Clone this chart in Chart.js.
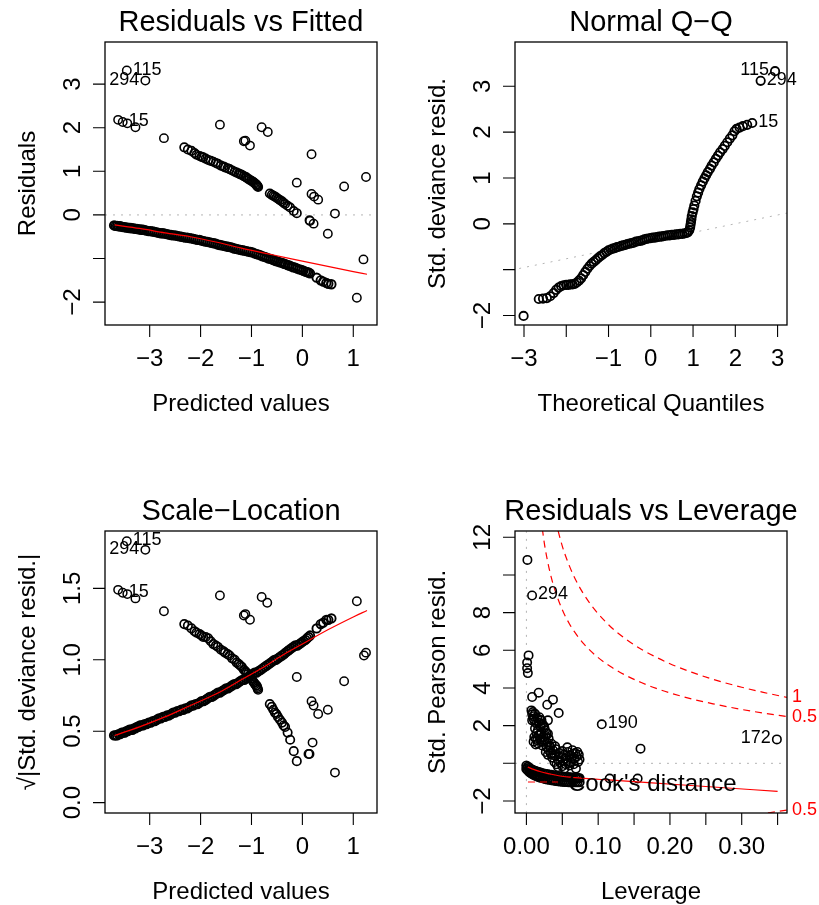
<!DOCTYPE html>
<html>
<head>
<meta charset="utf-8">
<title>glm diagnostics</title>
<script src="https://cdn.jsdelivr.net/npm/chart.js"></script>
<style>
  html, body { margin: 0; padding: 0; background: #fff; }
  #wrap { position: relative; width: 819px; height: 905px; overflow: hidden; }
  canvas { position: absolute; }
</style>
</head>
<body>
<div id="wrap">
  <canvas id="fitted" width="410" height="453" style="left:0;top:0"></canvas>
  <canvas id="qq" width="409" height="453" style="left:410px;top:0"></canvas>
  <canvas id="scaleloc" width="410" height="452" style="left:0;top:453px"></canvas>
  <canvas id="leverage" width="409" height="452" style="left:410px;top:453px"></canvas>
</div>
<script>
// ---------- Residuals vs Fitted / Scale-Location ----------
// lower band (y = 0 cases): fitted value, residual, sqrt|std resid|
const fittedLow = [-3.70,-3.67,-3.64,-3.61,-3.58,-3.55,-3.52,-3.49,-3.46,-3.43,-3.40,-3.37,-3.34,-3.31,-3.28,-3.25,-3.22,-3.19,-3.16,-3.13,-3.10,
  -3.06,-3.02,-2.98,-2.94,-2.90,-2.86,-2.82,-2.78,-2.74,-2.70,-2.66,-2.62,-2.58,-2.54,-2.50,-2.46,-2.42,-2.38,-2.34,-2.30,-2.26,-2.22,-2.18,-2.14,-2.10,-2.06,-2.02,
  -1.98,-1.94,-1.90,-1.86,-1.82,-1.78,-1.74,-1.70,-1.66,-1.62,-1.58,-1.54,-1.50,-1.46,-1.42,-1.38,-1.34,-1.30,-1.26,-1.22,-1.18,-1.14,-1.10,-1.06,-1.02,
  -0.98,-0.94,-0.90,-0.86,-0.82,-0.78,-0.74,-0.70,-0.66,-0.62,-0.58,-0.55,-0.52,-0.48,-0.44,-0.40,-0.36,-0.33,-0.29,-0.26,-0.22,-0.18,-0.14,-0.10,-0.06,-0.02,0.02,0.06,0.09,0.12,0.15,0.28,0.36,0.41,0.47,0.51,0.57];
const residLow = [-0.24,-0.25,-0.25,-0.26,-0.26,-0.27,-0.28,-0.28,-0.29,-0.29,-0.30,-0.30,-0.31,-0.31,-0.32,-0.32,-0.33,-0.33,-0.34,-0.34,-0.35,
  -0.36,-0.37,-0.37,-0.38,-0.39,-0.40,-0.41,-0.42,-0.42,-0.43,-0.44,-0.45,-0.46,-0.47,-0.47,-0.48,-0.49,-0.50,-0.51,-0.52,-0.52,-0.53,-0.54,-0.55,-0.56,-0.57,-0.57,
  -0.59,-0.60,-0.61,-0.62,-0.63,-0.64,-0.65,-0.66,-0.68,-0.69,-0.70,-0.71,-0.72,-0.73,-0.74,-0.75,-0.77,-0.78,-0.79,-0.80,-0.81,-0.82,-0.83,-0.84,-0.85,
  -0.86,-0.88,-0.90,-0.91,-0.93,-0.95,-0.96,-0.98,-1.00,-1.01,-1.03,-1.04,-1.06,-1.07,-1.09,-1.10,-1.12,-1.13,-1.15,-1.16,-1.18,-1.20,-1.21,-1.23,-1.25,-1.26,-1.28,-1.30,-1.31,-1.32,-1.34,-1.44,-1.50,-1.53,-1.56,-1.58,-1.59];
const sqrtLow = [0.47,0.47,0.47,0.48,0.48,0.49,0.49,0.49,0.50,0.50,0.51,0.51,0.51,0.52,0.52,0.53,0.53,0.54,0.54,0.54,0.55,
  0.55,0.56,0.56,0.57,0.57,0.58,0.59,0.59,0.60,0.60,0.61,0.61,0.62,0.63,0.63,0.64,0.64,0.65,0.65,0.66,0.66,0.67,0.68,0.68,0.69,0.69,0.70,
  0.71,0.71,0.72,0.73,0.74,0.74,0.75,0.76,0.77,0.77,0.78,0.79,0.80,0.80,0.81,0.82,0.83,0.83,0.84,0.85,0.86,0.86,0.87,0.88,0.89,
  0.90,0.91,0.91,0.92,0.93,0.94,0.95,0.96,0.97,0.98,0.99,1.00,1.00,1.01,1.02,1.03,1.04,1.05,1.06,1.07,1.08,1.09,1.10,1.10,1.11,1.12,1.13,1.14,1.15,1.16,1.17,1.22,1.25,1.26,1.28,1.28,1.29];

// upper band (y = 1 cases)
const fittedHigh = [-2.32,-2.25,-2.18,-2.12,-2.08,-2.02,-1.98,-1.95,-1.90,-1.85,-1.80,-1.75,-1.70,-1.66,-1.60,-1.55,-1.52,-1.47,-1.43,-1.38,
  -1.33,-1.29,-1.25,-1.22,-1.19,-1.15,-1.12,-1.10,-1.07,-1.04,-1.00,-0.97,-0.95,-0.93,-0.91,-0.90,-0.89,-0.88,-0.87,-0.64,
  -0.60,-0.57,-0.54,-0.51,-0.48,-0.44,-0.40,-0.37,-0.34,-0.29,-0.24,-0.17,-0.11];
const residHigh = [1.55,1.50,1.47,1.42,1.38,1.35,1.33,1.32,1.29,1.26,1.24,1.22,1.19,1.17,1.13,1.11,1.09,1.07,1.05,1.02,
  0.99,0.97,0.95,0.93,0.92,0.89,0.87,0.86,0.83,0.81,0.78,0.76,0.74,0.72,0.70,0.69,0.67,0.66,0.64,0.49,
  0.46,0.44,0.42,0.40,0.37,0.34,0.31,0.28,0.25,0.21,0.17,0.09,0.04];
const sqrtHigh = [1.25,1.24,1.22,1.20,1.19,1.18,1.17,1.16,1.16,1.15,1.13,1.11,1.10,1.09,1.07,1.06,1.05,1.04,1.03,1.01,
  1.00,0.98,0.97,0.96,0.95,0.93,0.92,0.91,0.90,0.89,0.87,0.85,0.84,0.83,0.82,0.82,0.81,0.80,0.79,0.69,
  0.67,0.65,0.63,0.62,0.60,0.58,0.56,0.54,0.53,0.49,0.44,0.36,0.29];

// scattered cases
const fittedOut = [-3.45,-3.085,-3.62,-3.53,-3.44,-3.28,-2.72,-1.62,-0.80,-0.68,-1.15,-1.12,-1.03,0.18,-0.11,0.82,1.25,0.18,0.23,0.31,0.64,0.14,0.15,0.22,0.50,1.20,1.07];
const residOut = [3.31,3.08,2.18,2.13,2.10,2.01,1.76,2.07,2.01,1.90,1.69,1.70,1.59,1.39,0.74,0.65,0.87,0.48,0.42,0.35,0.03,-0.12,-0.14,-0.20,-0.43,-1.02,-1.90];
const fittedOutSL = [-3.45,-3.085,-3.62,-3.53,-3.44,-3.28,-2.72,-1.62,-0.80,-0.69,-1.15,-1.12,-1.03,1.07,1.25,1.21,-0.11,0.82,0.18,0.22,0.31,0.50,0.20,0.12,0.14,0.64];
const sqrtOut = [1.83,1.77,1.49,1.47,1.46,1.43,1.34,1.45,1.44,1.40,1.31,1.32,1.28,1.41,1.05,1.03,0.88,0.85,0.71,0.68,0.62,0.65,0.42,0.34,0.34,0.21];

// red smoothers
const smoothFitX = [-3.69,-3.2,-2.7,-2.2,-1.7,-1.2,-0.77,-0.4,0,0.5,1.0,1.27];
const smoothFitY = [-0.23,-0.31,-0.41,-0.50,-0.62,-0.76,-0.87,-0.96,-1.06,-1.18,-1.30,-1.36];
const smoothSLX = [-3.69,-3.2,-2.7,-2.2,-1.7,-1.2,-0.8,-0.4,0,0.5,1.0,1.27];
const smoothSLY = [0.47,0.53,0.60,0.68,0.76,0.86,0.94,1.03,1.11,1.21,1.30,1.345];

// ---------- Normal Q-Q ----------
const qqTheo = [-3.01,-2.65,-2.55,-2.46,-2.38,-2.30,-2.24,-2.18,-2.12,-2.06,-2.00,-1.95,-1.90,-1.85,-1.80,-1.75,-1.70,-1.65,-1.60,-1.55,
  -1.50,-1.45,-1.40,-1.35,-1.30,-1.25,-1.20,-1.15,-1.10,-1.05,-1.00,-0.95,-0.90,-0.85,-0.80,-0.75,-0.70,-0.65,-0.60,-0.55,
  -0.50,-0.45,-0.40,-0.35,-0.30,-0.25,-0.20,-0.15,-0.10,-0.05,0.00,0.05,0.10,0.15,0.20,0.25,0.30,0.35,0.40,0.45,
  0.50,0.55,0.60,0.65,0.70,0.75,0.80,0.85,0.88,0.91,0.93,0.94,0.95,0.96,0.97,0.99,1.01,1.03,1.06,1.09,
  1.12,1.15,1.19,1.23,1.27,1.31,1.35,1.40,1.44,1.49,1.54,1.59,1.64,1.70,1.75,1.81,1.87,1.93,1.98,2.03,
  2.10,2.18,2.28,2.40,2.60,2.94];
const qqResid = [-2.01,-1.64,-1.63,-1.62,-1.58,-1.51,-1.44,-1.39,-1.36,-1.34,-1.33,-1.33,-1.32,-1.32,-1.31,-1.28,-1.24,-1.19,-1.12,-1.05,
  -0.98,-0.92,-0.87,-0.83,-0.79,-0.75,-0.71,-0.68,-0.64,-0.61,-0.58,-0.56,-0.54,-0.53,-0.51,-0.50,-0.48,-0.47,-0.46,-0.44,
  -0.43,-0.42,-0.41,-0.39,-0.38,-0.37,-0.36,-0.34,-0.33,-0.32,-0.31,-0.30,-0.30,-0.29,-0.28,-0.28,-0.27,-0.26,-0.25,-0.25,
  -0.24,-0.24,-0.23,-0.23,-0.22,-0.22,-0.21,-0.20,-0.18,-0.14,-0.08,-0.02,0.04,0.10,0.17,0.25,0.32,0.40,0.50,0.60,
  0.68,0.76,0.84,0.92,0.99,1.06,1.13,1.20,1.27,1.34,1.42,1.49,1.56,1.63,1.70,1.78,1.86,1.93,2.02,2.07,
  2.10,2.13,2.16,2.20,3.12,3.33];
const qqLineTheo = [-3.3, 3.3];
const qqLineResid = [-1.01, 0.25];

// ---------- Residuals vs Leverage ----------
const leverageOut = [0.0014,0.0079,0.003,0.001,0.002,0.001,0.008,0.017,0.029,0.037,0.045,0.105,0.159,0.349,0.116,0.155,
  0.007,0.009,0.012,0.010,0.008,0.014,0.021,0.020,0.026,0.016,0.011,0.015,0.023,0.030,0.028,0.035,0.034,0.039,0.049,0.056,
  0.065,0.067,0.060,0.053,0.069,0.044,0.031,0.030,0.031,0.037,0.044,0.063,0.072,0.039,0.018,0.024,0.027,0.019,0.013,0.022,
  0.033,0.041,0.046,0.052,0.058,0.047,0.055,0.062,0.070,0.074,0.036,0.042,
  0.008,0.010,0.012,0.015,0.017,0.019,0.022,0.025,0.012,0.014,0.017,0.021,0.024,0.028,0.010,0.013,0.016,0.019,0.025,0.029,
  0.032,0.027,0.030,0.036,0.040,0.045,0.050,0.054,0.057,0.060,0.064,0.068,0.071,0.066,0.058,0.050,0.073];
const pearsonOut = [10.8,8.91,5.73,5.35,4.79,5.05,3.52,3.75,3.11,3.38,2.67,2.07,0.78,1.27,-0.81,-0.81,
  2.81,2.72,2.63,2.50,2.28,2.10,2.28,1.93,1.75,1.75,1.40,1.22,1.13,1.57,0.86,1.04,0.51,0.42,0.33,0.16,
  0.51,0.25,-0.11,-0.28,-0.28,-0.20,0.69,2.28,1.31,0.69,0.16,0.25,0.07,0.07,2.45,2.00,1.45,1.55,1.00,0.95,
  0.85,0.75,0.55,0.45,0.60,0.05,-0.05,0.05,0.35,0.20,0.30,-0.05,
  2.60,2.35,2.20,2.40,2.15,2.30,2.10,1.90,1.85,1.60,1.50,1.65,1.40,1.60,1.15,1.30,1.05,1.25,1.20,1.10,
  0.95,0.60,0.45,0.55,0.90,0.35,0.65,0.25,0.85,0.40,0.70,0.55,0.60,-0.05,0.00,-0.15,0.45];
const leverageBand = [0.000,0.002,0.004,0.006,0.008,0.010,0.012,0.014,0.016,0.018,0.020,0.023,0.026,0.029,0.032,0.035,0.038,0.041,0.044,0.047,
  0.050,0.053,0.056,0.059,0.062,0.065,0.068,0.071,0.074];
const pearsonBandA = [-0.12,-0.18,-0.24,-0.29,-0.33,-0.37,-0.40,-0.43,-0.46,-0.48,-0.50,-0.53,-0.56,-0.58,-0.60,-0.62,-0.64,-0.66,-0.68,-0.69,
  -0.70,-0.72,-0.73,-0.74,-0.75,-0.76,-0.77,-0.78,-0.79];
const pearsonBandB = [-0.30,-0.38,-0.45,-0.51,-0.56,-0.60,-0.64,-0.67,-0.70,-0.73,-0.76,-0.79,-0.82,-0.85,-0.87,-0.89,-0.91,-0.93,-0.95,-0.96,
  -0.97,-0.98,-0.99,-1.00,-1.00,-1.00,-1.00,-1.00,-1.00];
const smoothLevX = [0.002,0.01,0.02,0.031,0.045,0.068,0.11,0.17,0.25,0.35];
const smoothLevY = [-0.20,-0.32,-0.45,-0.55,-0.66,-0.76,-0.87,-1.03,-1.23,-1.49];

// Cook's distance contours
const cookOneX = [0.04,0.05,0.06,0.07,0.08,0.09,0.10,0.12,0.14,0.16,0.18,0.20,0.23,0.26,0.30,0.33,0.363];
const cookOneY = [12.96,11.53,10.47,9.64,8.97,8.41,7.94,7.16,6.56,6.06,5.65,5.29,4.84,4.46,4.04,3.77,3.50];
const cookHalfX = [0.02,0.025,0.03,0.035,0.04,0.05,0.06,0.07,0.08,0.10,0.12,0.14,0.16,0.18,0.20,0.23,0.26,0.30,0.33,0.363];
const cookHalfY = [13.10,11.68,10.64,9.82,9.17,8.15,7.40,6.82,6.34,5.61,5.07,4.64,4.29,3.99,3.74,3.42,3.16,2.86,2.67,2.48];
const cookHalfLowX = [0.32,0.34,0.363];
const cookHalfLowY = [-2.73,-2.61,-2.48];

// ---------- axes ----------
const fitRange = [-3.878, 1.466];
const residRange = [-2.524, 3.965];
const theoRange = [-3.213, 3.223];
const stdResidRange = [-2.207, 3.967];
const sqrtRange = [-0.073, 1.902];
const levRange = [-0.0159, 0.3631];
const pearsonRange = [-2.638, 12.335];

const fitTicks = [-3, -2, -1, 0, 1];
const fitTickLabels = ['\u22123', '\u22122', '\u22121', '0', '1'];
const residTicks = [-2, -1, 0, 1, 2, 3];
const residTickLabels = ['\u22122', '', '0', '1', '2', '3'];
const theoTicks = [-3, -2, -1, 0, 1, 2, 3];
const theoTickLabels = ['\u22123', '', '\u22121', '0', '1', '2', '3'];
const sqrtTicks = [0, 0.5, 1, 1.5];
const sqrtTickLabels = ['0.0', '0.5', '1.0', '1.5'];
const levTicks = [0, 0.05, 0.1, 0.15, 0.2, 0.25, 0.3, 0.35];
const levTickLabels = ['0.00', '', '0.10', '', '0.20', '', '0.30', ''];
const pearsonTicks = [-2, 0, 2, 4, 6, 8, 10, 12];
const pearsonTickLabels = ['\u22122', '', '2', '4', '6', '8', '', '12'];

// labelled observations
const fitIds = ['115', '294', '15'];
const fitIdX = [-3.45, -3.085, -3.53];
const fitIdY = [3.31, 3.08, 2.13];
const fitIdSide = ['right', 'left', 'right'];
const slIdY = [1.83, 1.77, 1.47];
const qqIds = ['115', '294', '15'];
const qqIdX = [2.94, 2.60, 2.40];
const qqIdY = [3.33, 3.12, 2.20];
const qqIdSide = ['left', 'right', 'right'];
const levIds = ['294', '190', '172'];
const levIdX = [0.0079, 0.105, 0.349];
const levIdY = [8.91, 2.07, 1.27];
const levIdSide = ['right', 'right', 'left'];

const FONT = '"Liberation Sans", Arial, Helvetica, sans-serif';

function pts(xs, ys) {
  return xs.map((x, i) => ({ x: x, y: ys[i] }));
}

function rings(data, width) {
  return {
    data: data, showLine: false, order: 2,
    pointRadius: 4.2, pointHoverRadius: 4.2, pointBorderWidth: width || 1.5,
    pointBorderColor: '#000', pointBackgroundColor: 'rgba(0,0,0,0)'
  };
}

function curve(data, color, width, dash, order) {
  return {
    data: data, showLine: true, order: order, clip: 0,
    pointRadius: 0, pointHoverRadius: 0,
    borderColor: color, borderWidth: width, borderDash: dash || [],
    cubicInterpolationMode: 'monotone', fill: false
  };
}

function vText(ctx, text, x, y) {
  ctx.save();
  ctx.translate(x, y);
  ctx.rotate(-Math.PI / 2);
  ctx.textAlign = 'center';
  ctx.textBaseline = 'alphabetic';
  ctx.fillText(text, 0, 0);
  ctx.restore();
}

// R style frame: box, outside ticks, rotated y labels, titles, point ids
function rFrame(cfg) {
  return {
    id: 'rFrame',
    afterDraw(chart) {
      const ctx = chart.ctx, a = chart.chartArea;
      const xs = chart.scales.x, ys = chart.scales.y;
      ctx.save();
      ctx.strokeStyle = '#000';
      ctx.lineWidth = 1.3;
      ctx.setLineDash([]);
      ctx.strokeRect(a.left, a.top, a.right - a.left, a.bottom - a.top);

      ctx.lineWidth = 1.1;
      ctx.beginPath();
      cfg.xTicks.forEach(v => {
        const px = xs.getPixelForValue(v);
        ctx.moveTo(px, a.bottom); ctx.lineTo(px, a.bottom + 12);
      });
      cfg.yTicks.forEach(v => {
        const py = ys.getPixelForValue(v);
        ctx.moveTo(a.left, py); ctx.lineTo(a.left - 12, py);
      });
      ctx.stroke();

      ctx.fillStyle = '#000';
      ctx.font = '24px ' + FONT;
      ctx.textAlign = 'center';
      ctx.textBaseline = 'alphabetic';
      cfg.xTicks.forEach((v, i) => {
        if (cfg.xLabels[i]) ctx.fillText(cfg.xLabels[i], xs.getPixelForValue(v), a.bottom + 41);
      });
      cfg.yTicks.forEach((v, i) => {
        if (cfg.yLabels[i]) vText(ctx, cfg.yLabels[i], a.left - 25, ys.getPixelForValue(v));
      });
      ctx.fillText(cfg.xTitle, (a.left + a.right) / 2, a.bottom + 86);
      vText(ctx, cfg.yTitle, a.left - 70, (a.top + a.bottom) / 2);

      ctx.font = '29px ' + FONT;
      ctx.fillText(cfg.title, (a.left + a.right) / 2, a.top - 11);

      ctx.font = '18px ' + FONT;
      ctx.textBaseline = 'middle';
      cfg.ids.forEach((id, i) => {
        const px = xs.getPixelForValue(cfg.idX[i]);
        const py = ys.getPixelForValue(cfg.idY[i]) - 1;
        if (cfg.idSide[i] === 'left') {
          ctx.textAlign = 'right'; ctx.fillText(id, px - 6, py);
        } else {
          ctx.textAlign = 'left'; ctx.fillText(id, px + 6, py);
        }
      });
      if (cfg.extra) cfg.extra(chart, ctx, a, xs, ys);
      ctx.restore();
    }
  };
}

function makePanel(id, pad, xr, yr, datasets, frame) {
  return new Chart(document.getElementById(id), {
    type: 'scatter',
    data: { datasets: datasets },
    options: {
      responsive: false,
      animation: false,
      events: [],
      layout: { padding: pad, autoPadding: false },
      plugins: { legend: { display: false }, tooltip: { enabled: false }, title: { display: false } },
      scales: {
        x: { type: 'linear', min: xr[0], max: xr[1], display: false },
        y: { type: 'linear', min: yr[0], max: yr[1], display: false }
      }
    },
    plugins: [rFrame(frame)]
  });
}

const GRAY_DOT = '#b4b4b4';
const DOTS = [2, 6];
const DENSE = 1.9;   // stroke for the heavily overplotted bands

// 1. Residuals vs Fitted
makePanel('fitted', { left: 105, top: 42, right: 33, bottom: 128 }, fitRange, residRange, [
  curve(pts(smoothFitX, smoothFitY), '#ff0000', 1.2, [], 0),
  rings(pts(fittedLow, residLow), DENSE),
  rings(pts(fittedHigh, residHigh), 1.7),
  rings(pts(fittedOut, residOut)),
  curve(pts(fitRange, [0, 0]), GRAY_DOT, 1, DOTS, 3)
], {
  title: 'Residuals vs Fitted', xTitle: 'Predicted values', yTitle: 'Residuals',
  xTicks: fitTicks, xLabels: fitTickLabels, yTicks: residTicks, yLabels: residTickLabels,
  ids: fitIds, idX: fitIdX, idY: fitIdY, idSide: fitIdSide
});

// 2. Normal Q-Q
makePanel('qq', { left: 105, top: 42, right: 32, bottom: 128 }, theoRange, stdResidRange, [
  rings(pts(qqTheo, qqResid), 1.8),
  curve(pts(qqLineTheo, qqLineResid), GRAY_DOT, 1, DOTS, 3)
], {
  title: 'Normal Q\u2212Q', xTitle: 'Theoretical Quantiles', yTitle: 'Std. deviance resid.',
  xTicks: theoTicks, xLabels: theoTickLabels, yTicks: residTicks, yLabels: residTickLabels,
  ids: qqIds, idX: qqIdX, idY: qqIdY, idSide: qqIdSide
});

// 3. Scale-Location
makePanel('scaleloc', { left: 105, top: 78, right: 33, bottom: 92 }, fitRange, sqrtRange, [
  curve(pts(smoothSLX, smoothSLY), '#ff0000', 1.2, [], 0),
  rings(pts(fittedLow, sqrtLow), DENSE),
  rings(pts(fittedHigh, sqrtHigh), 1.7),
  rings(pts(fittedOutSL, sqrtOut))
], {
  title: 'Scale\u2212Location', xTitle: 'Predicted values', yTitle: '\u221A|Std. deviance resid.|',
  xTicks: fitTicks, xLabels: fitTickLabels, yTicks: sqrtTicks, yLabels: sqrtTickLabels,
  ids: fitIds, idX: fitIdX, idY: slIdY, idSide: fitIdSide
});

// 4. Residuals vs Leverage
const cookCurves = [
  { xs: cookOneX, ys: cookOneY, label: '1' },
  { xs: cookHalfX, ys: cookHalfY, label: '0.5' },
  { xs: cookHalfLowX, ys: cookHalfLowY, label: '0.5' }
];
makePanel('leverage', { left: 105, top: 78, right: 32, bottom: 92 }, levRange, pearsonRange, [
  curve(pts(smoothLevX, smoothLevY), '#ff0000', 1.2, [], 0),
  rings(pts(leverageOut, pearsonOut), 1.6),
  rings(pts(leverageBand, pearsonBandA), DENSE),
  rings(pts(leverageBand, pearsonBandB), DENSE),
  curve(pts(cookOneX, cookOneY), '#ff0000', 1.2, [7, 5], 1),
  curve(pts(cookHalfX, cookHalfY), '#ff0000', 1.2, [7, 5], 1),
  curve(pts(cookHalfLowX, cookHalfLowY), '#ff0000', 1.2, [7, 5], 1),
  curve(pts(levRange, [0, 0]), GRAY_DOT, 1, DOTS, 3),
  curve(pts([0, 0], pearsonRange), GRAY_DOT, 1, DOTS, 3)
], {
  title: 'Residuals vs Leverage', xTitle: 'Leverage', yTitle: 'Std. Pearson resid.',
  xTicks: levTicks, xLabels: levTickLabels, yTicks: pearsonTicks, yLabels: pearsonTickLabels,
  ids: levIds, idX: levIdX, idY: levIdY, idSide: levIdSide,
  extra: function (chart, ctx, a, xs, ys) {
    // contour labels in the right margin
    ctx.fillStyle = '#ff0000';
    ctx.font = '18px ' + FONT;
    ctx.textAlign = 'left';
    ctx.textBaseline = 'middle';
    cookCurves.forEach(c => {
      const v = c.ys[c.ys.length - 1];
      if (v > pearsonRange[0] && v < pearsonRange[1]) ctx.fillText(c.label, a.right + 5, ys.getPixelForValue(v));
    });
    // legend
    ctx.strokeStyle = '#ff0000';
    ctx.lineWidth = 1.2;
    ctx.setLineDash([7, 5]);
    ctx.beginPath();
    ctx.moveTo(a.left + 13, a.bottom - 31);
    ctx.lineTo(a.left + 43, a.bottom - 31);
    ctx.stroke();
    ctx.setLineDash([]);
    ctx.fillStyle = '#000';
    ctx.font = '24px ' + FONT;
    ctx.textBaseline = 'alphabetic';
    ctx.fillText("Cook's distance", a.left + 53, a.bottom - 22);
  }
});
</script>
</body>
</html>
